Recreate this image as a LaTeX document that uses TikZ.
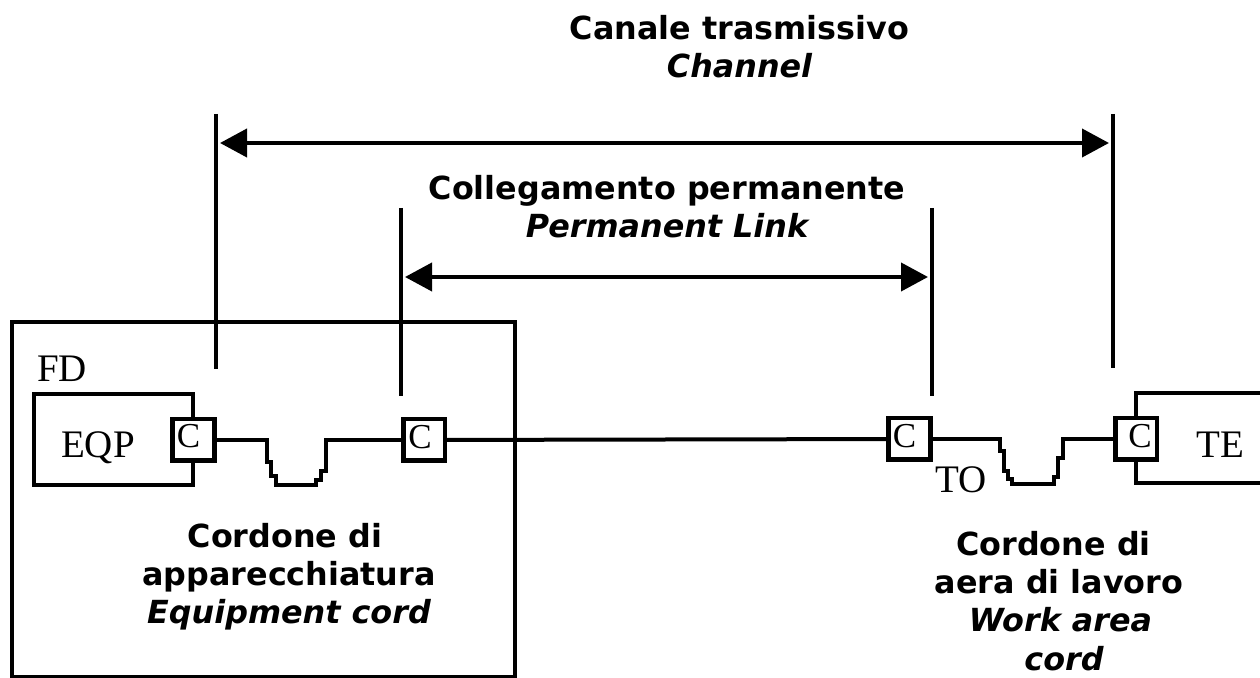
\documentclass[tikz,border=0pt]{standalone}
\usepackage{fontspec}
\setmainfont{DejaVu Sans}
\newfontfamily\smallserif{Liberation Serif}
\usetikzlibrary{arrows.meta}

\tikzset{
  conn/.style={draw,rectangle,fill=white,line width=2.3pt,minimum size=20.8pt,inner sep=0pt},
  tag/.style={anchor=base,inner sep=0pt,font=\smallserif\fontsize{19.5}{19}\selectfont},
  connmark/.style={anchor=base,inner sep=0pt,font=\smallserif\fontsize{17.5}{18}\selectfont},
  title/.style={anchor=base,inner sep=0pt,font=\fontsize{15.9}{17}\selectfont\bfseries},
  titleit/.style={anchor=base,inner sep=0pt,font=\fontsize{15.9}{17}\selectfont\bfseries\itshape},
  wire/.style={line width=2pt},
  span/.style={line width=2pt,{Triangle[length=13.5pt,width=14pt]}-{Triangle[length=13.5pt,width=14pt]},shorten <=2pt,shorten >=2pt}
}

\begin{document}
\begin{tikzpicture}[x=.5pt,y=-.5pt]
        \useasboundingbox (0,0) rectangle (1260,678);

        % rack and the two boxes
        \draw[wire] (12,322) rectangle (515,677);
        \draw[wire] (34,394) rectangle (193,485);
        \coordinate (teTop) at (1260,393);
        \coordinate (teBot) at (1260,483);
        \draw[wire] (teTop) -- (1136,393) -- (1136,483) -- (teBot);

        % limits of the two spans
        \coordinate (chanLeftTop) at (216,114);
        \coordinate (chanLeftBot) at (216,369);
        \coordinate (chanRightTop) at (1113,114);
        \coordinate (chanRightBot) at (1113,368);
        \coordinate (linkLeftTop) at (401,208);
        \coordinate (linkLeftBot) at (401,396);
        \coordinate (linkRightTop) at (932,208);
        \coordinate (linkRightBot) at (932,396);
        \draw[wire] (chanLeftTop) -- (chanLeftBot);
        \draw[wire] (chanRightTop) -- (chanRightBot);
        \draw[wire] (linkLeftTop) -- (linkLeftBot);
        \draw[wire] (linkRightTop) -- (linkRightBot);

        \coordinate (chanA) at (216,143);
        \coordinate (chanB) at (1113,143);
        \coordinate (linkA) at (401,277);
        \coordinate (linkB) at (932,277);
        \draw[span] (chanA) -- (chanB);
        \draw[span] (linkA) -- (linkB);

        \begin{scope}[every node/.style={conn}]
          \node (c1) at (193.5,440) {};
          \node (c2) at (424,440) {};
          \node (c3) at (909.5,439) {};
          \node (c4) at (1136,439) {};
        \end{scope}

        % cords
        \draw[wire] (c1.east) -- ++(50,0) -- ++(0,22) -- ++(4,0) -- ++(0,14) -- ++(5,0) -- ++(0,9)
          -- ++(40,0) -- ++(0,-5) -- ++(5,0) -- ++(0,-9) -- ++(5,0) -- ++(0,-31) -- (c2.west);
        \draw[wire] (c2) -- (c3);
        \draw[wire] (c3.east) -- ++(67,0) -- ++(0,12) -- ++(4,0) -- ++(0,20) -- ++(4,0) -- ++(0,8) -- ++(4,0) -- ++(0,5)
          -- ++(42,0) -- ++(0,-7) -- ++(4,0) -- ++(0,-19) -- ++(5,0) -- ++(0,-19) -- (c4.west);

        \begin{scope}[every node/.style={connmark}]
          \node (m1) at (188.5,448) {C};
          \node (m2) at (420,449) {C};
          \node (m3) at (904.5,448) {C};
          \node (m4) at (1140,448) {C};
        \end{scope}

        \begin{scope}[every node/.style={tag}]
          \node (fd) at (62,382) {FD};
          \node (eqp) at (98,458) {EQP};
          \node (to) at (961,493) {TO};
          \node (te) at (1220,458) {TE};
        \end{scope}

        \begin{scope}[every node/.style={title}]
          \node (chanIt) at (739.5,40) {Canale trasmissivo};
          \node (linkIt) at (667,200) {Collegamento permanente};
          \node (eqA) at (285,548) {Cordone di};
          \node (eqB) at (289,586) {apparecchiatura};
          \node (waA) at (1053.5,556) {Cordone di};
          \node (waB) at (1059,594) {aera di lavoro};
        \end{scope}

        \begin{scope}[every node/.style={titleit}]
          \node (chanEn) at (739.5,78) {Channel};
          \node (linkEn) at (667,238) {Permanent Link};
          \node (eqC) at (289,624) {Equipment cord};
          \node (waC) at (1060.5,632) {Work area};
          \node (waD) at (1064,671) {cord};
        \end{scope}

      \end{tikzpicture}
\end{document}
